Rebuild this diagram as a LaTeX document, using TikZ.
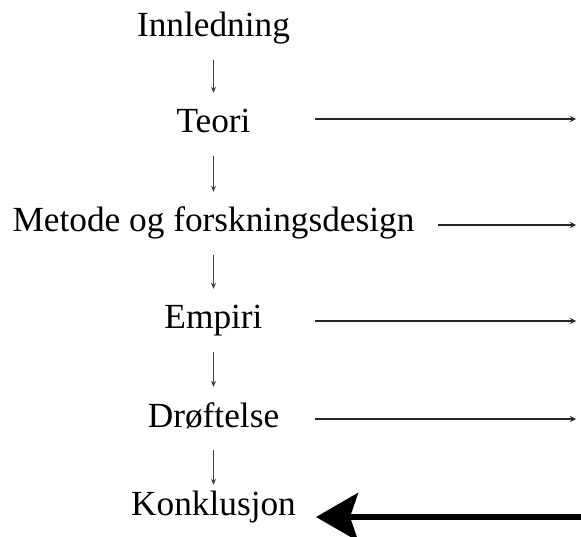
\documentclass[tikz,border=0pt]{standalone}
\usepackage{fontspec}
\setmainfont{Liberation Serif}
\usetikzlibrary{arrows.meta}

\begin{document}
\begin{tikzpicture}[x=1pt,y=-1pt,
  part/.style={inner sep=0pt,anchor=base,text height=24pt,text depth=8pt,
    font=\fontsize{35.3}{40}\selectfont},
  down/.style={draw=black!75,line width=0.8pt,-{Stealth[length=6pt,width=5pt]},
    shorten <=15pt,shorten >=16pt},
  side/.style={draw=black!85,line width=1.1pt,-{Stealth[length=6pt,width=6pt]}},
  back/.style={draw=black,line width=6pt,-{Stealth[length=42pt,width=48pt,inset=8pt]}}]
\useasboundingbox (0,0) rectangle (581,537);

\node[part] (innledning) at (213.5,37) {Innledning};
\node[part] (teori) at (213.5,133) {Teori};
\node[part] (metode) at (213.5,232) {Metode og forskningsdesign};
\node[part] (empiri) at (213.5,329) {Empiri};
\node[part] (droftelse) at (213.5,427) {Drøftelse};
\node[part] (konklusjon) at (213.5,515) {Konklusjon};

% vertical chain
\draw[down] (innledning.south) -- (teori.north);
\draw[down] (teori.south) -- (metode.north);
\draw[down] (metode.south) -- (empiri.north);
\draw[down] (empiri.south) -- (droftelse.north);
\draw[down,shorten >=6pt] (droftelse.south) -- (konklusjon.north);

% arrows to the right
\coordinate (teori-l) at (315,119);
\coordinate (teori-r) at (576,119);
\coordinate (metode-l) at (438,225);
\coordinate (metode-r) at (576,225);
\coordinate (empiri-l) at (315,321);
\coordinate (empiri-r) at (576,321);
\coordinate (droftelse-l) at (315,419);
\coordinate (droftelse-r) at (576,419);

\draw[side] (teori-l) -- (teori-r);
\draw[side] (metode-l) -- (metode-r);
\draw[side] (empiri-l) -- (empiri-r);
\draw[side] (droftelse-l) -- (droftelse-r);

% back to the conclusion
\coordinate (retur-r) at (584,517);
\coordinate (retur-l) at (316,517);
\draw[back] (retur-r) -- (retur-l);

\end{tikzpicture}
\end{document}
